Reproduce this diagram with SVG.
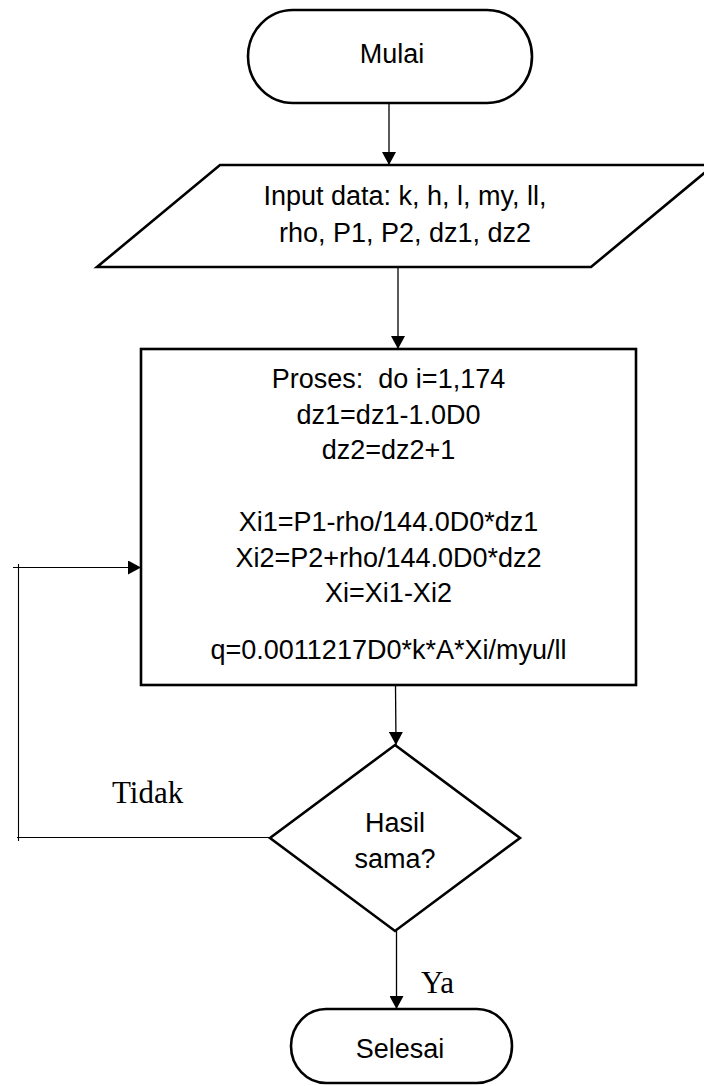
<svg xmlns="http://www.w3.org/2000/svg" width="704" height="1086" viewBox="0 0 704 1086">
<style>
.shape{fill:#fff;stroke:#000;stroke-width:2.6}
.conn{fill:none;stroke:#000;stroke-width:1.3}
.loop{fill:none;stroke:#000;stroke-width:1.1}
.t{font-family:"Liberation Sans",Arial,sans-serif;font-size:27px;fill:#000;text-anchor:middle}
.lbl{font-family:"Liberation Serif","Times New Roman",serif;font-size:31px;fill:#000}
</style>
<defs>
<marker id="arrow" viewBox="0 0 13 14" refX="13" refY="7" markerWidth="13" markerHeight="14" markerUnits="userSpaceOnUse" orient="auto">
<path d="M0,0 L13,7 L0,14 z" fill="#000"/>
</marker>
</defs>
<rect x="0" y="0" width="704" height="1086" fill="#fff"/>

<g id="connectors">
<line class="conn" x1="389" y1="103" x2="389" y2="165" marker-end="url(#arrow)"/>
<line class="conn" x1="398" y1="267" x2="398" y2="349" marker-end="url(#arrow)"/>
<line class="conn" x1="395.5" y1="685" x2="396" y2="745" marker-end="url(#arrow)"/>
<line class="conn" x1="396.5" y1="931" x2="396.5" y2="1009" marker-end="url(#arrow)"/>
<line class="loop" x1="270" y1="837.5" x2="17" y2="837.5"/>
<line class="loop" x1="18.5" y1="841" x2="18.5" y2="564"/>
<line class="loop" x1="13" y1="567.5" x2="141" y2="567.5" marker-end="url(#arrow)"/>
<text class="lbl" x="112" y="803">Tidak</text>
<text class="lbl" x="421" y="993">Ya</text>
</g>

<g id="start">
<rect class="shape" x="248" y="10" width="284" height="93" rx="45" ry="46.5"/>
<text class="t" x="392" y="63">Mulai</text>
</g>

<g id="input">
<polygon class="shape" points="220,165 714,165 591,267 97,267"/>
<text class="t" x="405" y="205">Input data: k, h, l, my, ll,</text>
<text class="t" x="405" y="242">rho, P1, P2, dz1, dz2</text>
</g>

<g id="process">
<rect class="shape" x="141" y="349" width="495" height="336" stroke-width="3"/>
<text class="t" x="388.5" y="388" xml:space="preserve">Proses:  do i=1,174</text>
<text class="t" x="388.5" y="424">dz1=dz1-1.0D0</text>
<text class="t" x="388.5" y="459">dz2=dz2+1</text>
<text class="t" x="388.5" y="531">Xi1=P1-rho/144.0D0*dz1</text>
<text class="t" x="388.5" y="567">Xi2=P2+rho/144.0D0*dz2</text>
<text class="t" x="388.5" y="602">Xi=Xi1-Xi2</text>
<text class="t" x="388.5" y="659">q=0.0011217D0*k*A*Xi/myu/ll</text>
</g>

<g id="decision">
<polygon class="shape" points="395,745 520,838 395,931 270,838"/>
<text class="t" x="395" y="832">Hasil</text>
<text class="t" x="395" y="868">sama?</text>
</g>

<g id="end">
<rect class="shape" x="291" y="1009" width="221" height="74" rx="35" ry="37"/>
<text class="t" x="400" y="1058">Selesai</text>
</g>
</svg>
